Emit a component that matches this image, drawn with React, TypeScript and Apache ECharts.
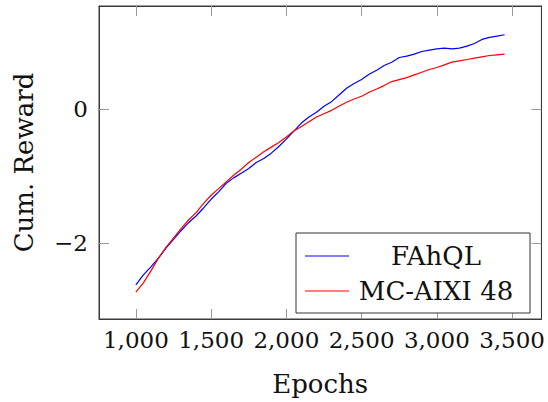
import React, { useEffect, useRef } from "react";
import * as echarts from "echarts";

const epochs = [
  1000, 1050, 1100, 1150, 1200, 1250, 1300, 1350, 1400, 1450,
  1500, 1550, 1600, 1650, 1700, 1750, 1800, 1850, 1900, 1950,
  2000, 2050, 2100, 2150, 2200, 2250, 2300, 2350, 2400, 2450,
  2500, 2550, 2600, 2650, 2700, 2750, 2800, 2850, 2900, 2950,
  3000, 3050, 3100, 3150, 3200, 3250, 3300, 3350, 3400, 3450,
];

const fahql = [
  -2.63, -2.48, -2.36, -2.23, -2.08, -1.95, -1.82, -1.7, -1.6, -1.48,
  -1.35, -1.24, -1.11, -1.03, -0.96, -0.89, -0.8, -0.74, -0.66, -0.56,
  -0.45, -0.33, -0.21, -0.12, -0.05, 0.04, 0.11, 0.21, 0.31, 0.38,
  0.44, 0.52, 0.58, 0.65, 0.7, 0.77, 0.79, 0.82, 0.86, 0.88,
  0.9, 0.91, 0.9, 0.91, 0.94, 0.98, 1.04, 1.07, 1.09, 1.11,
];

const mcaixi = [
  -2.74, -2.6, -2.42, -2.23, -2.07, -1.93, -1.79, -1.66, -1.55, -1.41,
  -1.29, -1.19, -1.09, -0.99, -0.9, -0.8, -0.72, -0.64, -0.57, -0.5,
  -0.42, -0.33, -0.26, -0.19, -0.12, -0.07, -0.02, 0.04, 0.1, 0.15,
  0.19, 0.25, 0.3, 0.35, 0.41, 0.44, 0.47, 0.51, 0.55, 0.59,
  0.62, 0.66, 0.7, 0.72, 0.74, 0.76, 0.78, 0.8, 0.81, 0.82,
];

const seriesNames = ["FAhQL", "MC-AIXI 48"];
const seriesColors = ["#0000ff", "#ff0000"];
const xTicks = [1000, 1500, 2000, 2500, 3000, 3500];
const yTicks = [-2, 0];

const FONT = "DejaVu Serif";

export default function App() {
  const ref = useRef<HTMLDivElement>(null);
  useEffect(() => {
    document.body.style.margin = "0";
    const chart = echarts.init(ref.current!, null, { renderer: "svg" });
    const gl = 99, gt = 6, gr = 4, gb = 79;
    const tickStyle = { show: true, inside: true, length: 10, lineStyle: { color: "#9a9a9a", width: 1 } };
    const axisLine = { show: true, onZero: false, lineStyle: { color: "#3a3a3a", width: 1 } };
    const seriesData = [fahql, mcaixi];
    const lx = 296, ly = 233, lw = 234, lh = 80;
    const graphic: any[] = [
      { type: "rect", shape: { x: lx, y: ly, width: lw, height: lh }, style: { fill: "#fff", stroke: "#333", lineWidth: 1 }, z: 100 },
    ];
    seriesNames.forEach((n, i) => {
      const cy = ly + 23 + i * 35;
      graphic.push({ type: "line", shape: { x1: 305, y1: cy, x2: 349, y2: cy }, style: { stroke: seriesColors[i], lineWidth: 1.2 }, z: 101 });
      graphic.push({ type: "text", x: 436, y: cy, style: { text: n, fontFamily: FONT, fontSize: 26, fill: "#111", align: "center", verticalAlign: "middle" }, z: 101 });
    });
    chart.setOption({
      animation: false,
      grid: { left: gl, top: gt, right: gr, bottom: gb, containLabel: false, show: true, borderColor: "#3a3a3a", borderWidth: 1, backgroundColor: "transparent" },
      xAxis: [
        {
          type: "value", min: 755, max: 3695, position: "bottom",
          name: "Epochs", nameLocation: "middle", nameGap: 52,
          nameTextStyle: { fontFamily: FONT, fontSize: 26, color: "#111" },
          axisLine, axisTick: { ...tickStyle, customValues: xTicks },
          axisLabel: { customValues: xTicks, fontFamily: FONT, fontSize: 23, color: "#111", margin: 9, formatter: (v: number) => v.toLocaleString("en-US") },
          splitLine: { show: false },
        },
        {
          type: "value", min: 755, max: 3695, position: "top",
          axisLine, axisTick: { ...tickStyle, customValues: xTicks },
          axisLabel: { show: false }, splitLine: { show: false },
        },
      ],
      yAxis: [
        {
          type: "value", min: -3.14, max: 1.54, position: "left",
          name: "Cum. Reward", nameLocation: "middle", nameGap: 62,
          nameTextStyle: { fontFamily: FONT, fontSize: 26, color: "#111" },
          axisLine, axisTick: { ...tickStyle, customValues: yTicks },
          axisLabel: { customValues: yTicks, fontFamily: FONT, fontSize: 23, color: "#111", margin: 11, formatter: (v: number) => (v < 0 ? "\u2212" + Math.abs(v) : String(v)) },
          splitLine: { show: false },
        },
        {
          type: "value", min: -3.14, max: 1.54, position: "right",
          axisLine, axisTick: { ...tickStyle, customValues: yTicks },
          axisLabel: { show: false }, splitLine: { show: false },
        },
      ],
      series: seriesNames.map((n, i) => ({
        name: n, type: "line", xAxisIndex: 0, yAxisIndex: 0,
        data: epochs.map((e, k) => [e, seriesData[i][k]]),
        showSymbol: false, symbol: "none",
        lineStyle: { color: seriesColors[i], width: 1.2 },
        z: 3,
      })),
      graphic,
    });
    return () => chart.dispose();
  }, []);
  return <div ref={ref} style={{ position: "absolute", left: 0, top: 0, width: 548, height: 402 }} />;
}
